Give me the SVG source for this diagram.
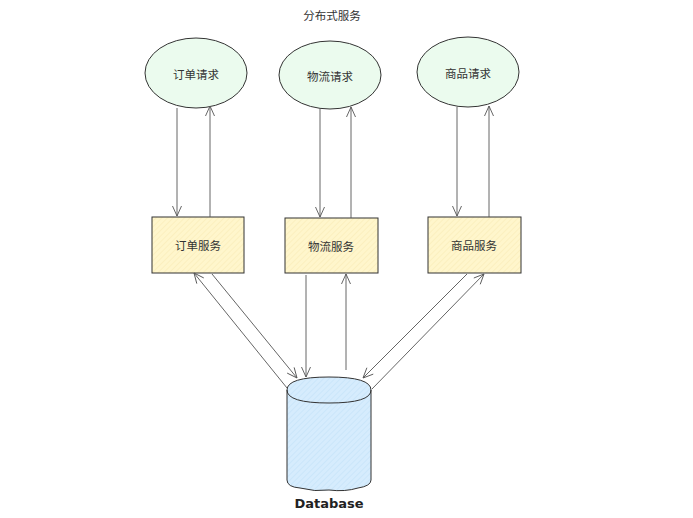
<svg xmlns="http://www.w3.org/2000/svg" width="693" height="518" viewBox="0 0 693 518">
<style>
.ell{fill:#ebfbee;stroke:#333;stroke-width:1}
.box{fill:#fff6cc}
.edge{fill:none;stroke:#333;stroke-width:1}
.lbl{font-family:"Noto Sans CJK SC","Noto Sans",sans-serif;font-size:11.5px;fill:#333;text-anchor:middle;dominant-baseline:central}
.con line{stroke:#555;stroke-width:0.9;fill:none;marker-end:url(#arr)}
</style>
<defs>
<marker id="arr" viewBox="0 0 12 12" refX="11" refY="6" markerWidth="12" markerHeight="12" markerUnits="userSpaceOnUse" orient="auto">
<path d="M1,1.5 L11,6 L1,10.5" fill="none" stroke="#555" stroke-width="0.9"/>
</marker>
<pattern id="hy" width="4" height="4" patternUnits="userSpaceOnUse" patternTransform="rotate(45)"><line x1="0" y1="0" x2="0" y2="4" stroke="#f2e3a6" stroke-width="0.7"/></pattern>
<pattern id="hb" width="4" height="4" patternUnits="userSpaceOnUse" patternTransform="rotate(45)"><line x1="0" y1="0" x2="0" y2="4" stroke="#b5d8f3" stroke-width="0.7"/></pattern>
<path id="dbbody" d="M287,390 L287,480 Q287,487 300,488 Q315,492 329,490 Q345,492 358,488 Q371,486 371,480 L371,390 Q371,377 329,377 Q287,377 287,390 Z"/>
</defs>
<rect width="693" height="518" fill="#ffffff"/>
<text id="title" class="lbl" x="332" y="15">分布式服务</text>

<g id="n-order-req"><ellipse class="ell" cx="196" cy="73" rx="51" ry="35"/><text class="lbl" x="196" y="74">订单请求</text></g>
<g id="n-logi-req"><ellipse class="ell" cx="330" cy="75" rx="51" ry="34"/><text class="lbl" x="330" y="76">物流请求</text></g>
<g id="n-prod-req"><ellipse class="ell" cx="468" cy="72" rx="51" ry="35"/><text class="lbl" x="468" y="73">商品请求</text></g>

<g id="n-order-svc"><rect class="box" x="152" y="217" width="92" height="56"/><rect x="152" y="217" width="92" height="56" fill="url(#hy)"/><rect class="edge" x="152" y="217" width="92" height="56"/><text class="lbl" x="198" y="245">订单服务</text></g>
<g id="n-logi-svc"><rect class="box" x="285" y="218" width="93" height="55"/><rect x="285" y="218" width="93" height="55" fill="url(#hy)"/><rect class="edge" x="285" y="218" width="93" height="55"/><text class="lbl" x="331" y="246">物流服务</text></g>
<g id="n-prod-svc"><rect class="box" x="428" y="217" width="93" height="56"/><rect x="428" y="217" width="93" height="56" fill="url(#hy)"/><rect class="edge" x="428" y="217" width="93" height="56"/><text class="lbl" x="474" y="245">商品服务</text></g>

<g id="n-db">
<use href="#dbbody" fill="#d6ecfd"/>
<use href="#dbbody" fill="url(#hb)"/>
<use href="#dbbody" class="edge"/>
<path class="edge" d="M287,390 Q287,403 329,403 Q371,403 371,390"/>
<text x="329" y="503" font-family="DejaVu Sans, sans-serif" font-size="13" font-weight="bold" fill="#222" text-anchor="middle" dominant-baseline="central">Database</text>
</g>

<g id="connectors" class="con">
<line x1="177" y1="108" x2="177" y2="216"/>
<line x1="210" y1="217" x2="210" y2="106"/>
<line x1="320" y1="109" x2="320" y2="217"/>
<line x1="351" y1="218" x2="351" y2="107"/>
<line x1="457" y1="107" x2="457" y2="216"/>
<line x1="489" y1="217" x2="489" y2="106"/>
<line x1="287" y1="388" x2="194" y2="273"/>
<line x1="212" y1="274" x2="297" y2="378"/>
<line x1="306" y1="275" x2="306" y2="377"/>
<line x1="346" y1="370" x2="346" y2="274"/>
<line x1="467" y1="274" x2="363" y2="378"/>
<line x1="372" y1="389" x2="484" y2="274"/>
</g>
</svg>
